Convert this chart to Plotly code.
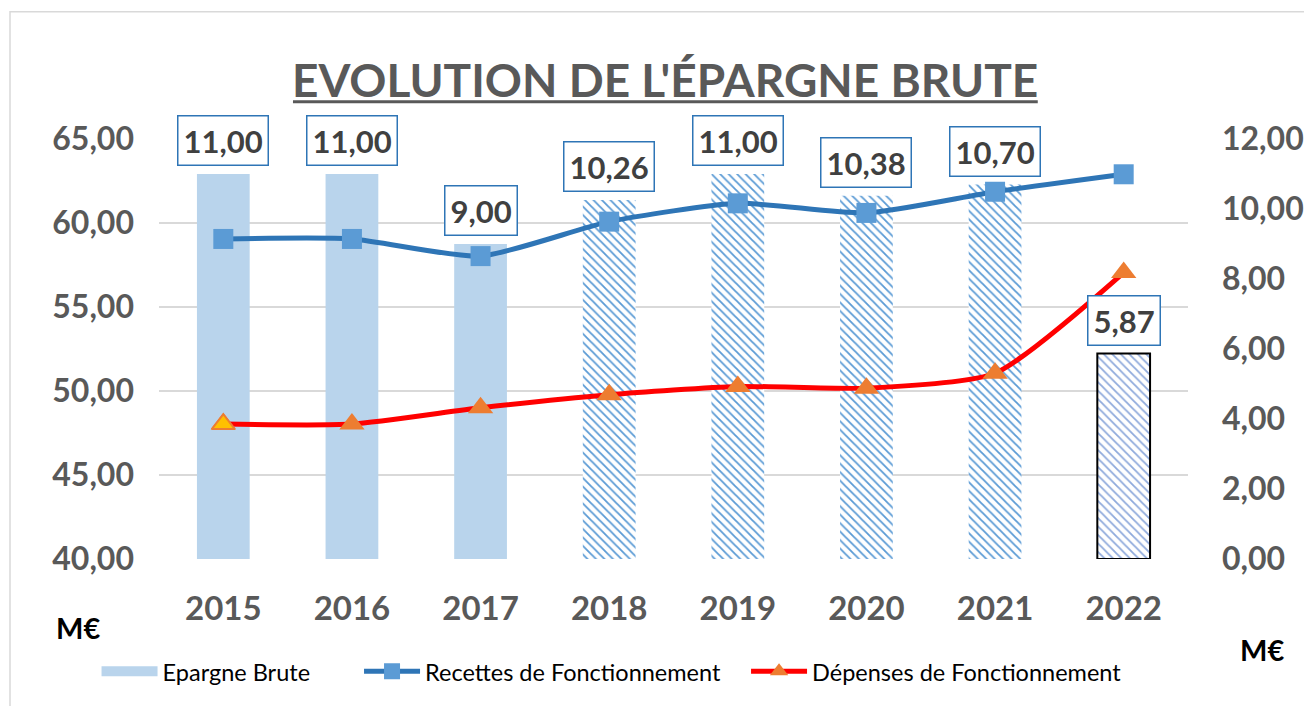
import plotly.graph_objects as go

years = ["2015", "2016", "2017", "2018", "2019", "2020", "2021", "2022"]
epargne = [11.00, 11.00, 9.00, 10.26, 11.00, 10.38, 10.70, 5.87]
epargne_labels = ["11,00", "11,00", "9,00", "10,26", "11,00", "10,38", "10,70", "5,87"]
recettes = [59.05, 59.05, 58.03, 60.08, 61.17, 60.60, 61.86, 62.90]
depenses = [48.03, 48.03, 49.00, 49.78, 50.27, 50.17, 51.06, 57.05]

left_ticks = [40, 45, 50, 55, 60, 65]
right_ticks = [0, 2, 4, 6, 8, 10, 12]

FONT = "Lato"
GREY = "#595959"

solid = "#B9D4EC"
pattern_shapes = ["", "", "", "\\", "\\", "\\", "\\", "\\"]
pattern_fg = ["#5B9BD5"] * 7 + ["#8FAADC"]
line_w = [0] * 7 + [2]

fig = go.Figure()

fig.add_trace(go.Bar(
    x=years, y=epargne, name="Epargne Brute", yaxis="y", width=0.41,
    showlegend=False,
    marker=dict(
        color=solid,
        line=dict(width=line_w, color="#000000"),
        pattern=dict(shape=pattern_shapes, fgcolor=pattern_fg, bgcolor="white",
                     size=6, solidity=0.3, fillmode="replace"),
    ),
    hoverinfo="skip",
))

# legend swatch for the bar series
fig.add_trace(go.Scatter(
    x=[None], y=[None], name="Epargne Brute", mode="lines", yaxis="y",
    line=dict(color=solid, width=15), legend="legend",
))

fig.add_trace(go.Scatter(
    x=years, y=recettes, name="Recettes de Fonctionnement", yaxis="y2",
    mode="lines+markers", legend="legend2",
    line=dict(color="#2E75B6", width=5, shape="spline", smoothing=0.6),
    marker=dict(symbol="square", size=20, color="#5B9BD5"),
))

fig.add_trace(go.Scatter(
    x=years, y=depenses, name="Dépenses de Fonctionnement", yaxis="y2",
    mode="lines+markers", legend="legend3",
    line=dict(color="#FF0000", width=5, shape="spline", smoothing=0.6),
    marker=dict(symbol="triangle-up", size=22, color="#ED7D31"),
))

fig.add_trace(go.Scatter(
    x=years[:1], y=depenses[:1], yaxis="y2", mode="markers", showlegend=False,
    marker=dict(symbol="triangle-up", size=20, color="#FFC000",
                line=dict(color="#ED7D31", width=2)),
))

annotations = []
for i, (v, lab) in enumerate(zip(epargne, epargne_labels)):
    annotations.append(dict(
        x=i, y=v, xref="x", yref="y", text=lab,
        showarrow=False, xanchor="center", yanchor="bottom", yshift=8,
        font=dict(family=FONT, size=31, color="#404040", weight="bold"),
        bgcolor="white", bordercolor="#2E75B6", borderwidth=1.5, borderpad=5,
    ))

annotations += [
    dict(x=0.4917, y=1.1412, xref="paper", yref="paper", showarrow=False,
         text="EVOLUTION DE L'ÉPARGNE BRUTE", xanchor="center", yanchor="middle",
         font=dict(family=FONT, size=46, color=GREY, weight="bold")),
    dict(x=-0.0787, y=-0.1636, xref="paper", yref="paper", showarrow=False,
         text="M€", xanchor="center", yanchor="middle",
         font=dict(family=FONT, size=29, color="black", weight="bold")),
    dict(x=1.0719, y=-0.2155, xref="paper", yref="paper", showarrow=False,
         text="M€", xanchor="center", yanchor="middle",
         font=dict(family=FONT, size=29, color="black", weight="bold")),
]

shapes = [
    dict(type="rect", xref="paper", yref="paper", x0=-0.1448, x1=1.14, y0=-0.37, y1=1.303,
         line=dict(color="#D9D9D9", width=1.5), fillcolor="rgba(0,0,0,0)", layer="below"),
    dict(type="line", xref="paper", yref="paper", x0=0.1302, x1=0.854, y0=1.0888, y1=1.0888,
         line=dict(color=GREY, width=3)),
]

legend_common = dict(orientation="h", y=-0.268, xanchor="left", yanchor="middle",
                     font=dict(family=FONT, size=23.5, color="black"),
                     itemwidth=56, bgcolor="rgba(0,0,0,0)")

tickfont = dict(family=FONT, size=32, color=GREY, weight="bold")

fig.update_layout(
    width=1304, height=698,
    margin=dict(l=151, r=124, t=131, b=147, autoexpand=False),
    paper_bgcolor="white", plot_bgcolor="white",
    separators=", ",
    font=dict(family=FONT),
    showlegend=True,
    legend=dict(x=-0.0607, **legend_common),
    legend2=dict(x=0.1944, **legend_common),
    legend3=dict(x=0.5705, **legend_common),
    annotations=annotations,
    shapes=shapes,
    xaxis=dict(type="category", range=[-0.5, 7.5], showgrid=False, showline=False,
               ticks="", ticklabelstandoff=27, automargin=False,
               tickfont=dict(family=FONT, size=33, color=GREY, weight="bold")),
    yaxis=dict(side="right", range=[0, 12], tickvals=right_ticks, tickformat=".2f",
               showgrid=False, zeroline=False, showline=False, ticks="",
               ticklabelstandoff=33, tickfont=tickfont, automargin=False),
    yaxis2=dict(side="left", overlaying="y", range=[40, 65], tickvals=left_ticks,
                tickformat=".2f", showgrid=True, gridcolor="#D9D9D9", gridwidth=2,
                zeroline=False, showline=False, ticks="", ticklabelstandoff=24,
                tickfont=tickfont, automargin=False),
)

fig.write_html("out.html")
